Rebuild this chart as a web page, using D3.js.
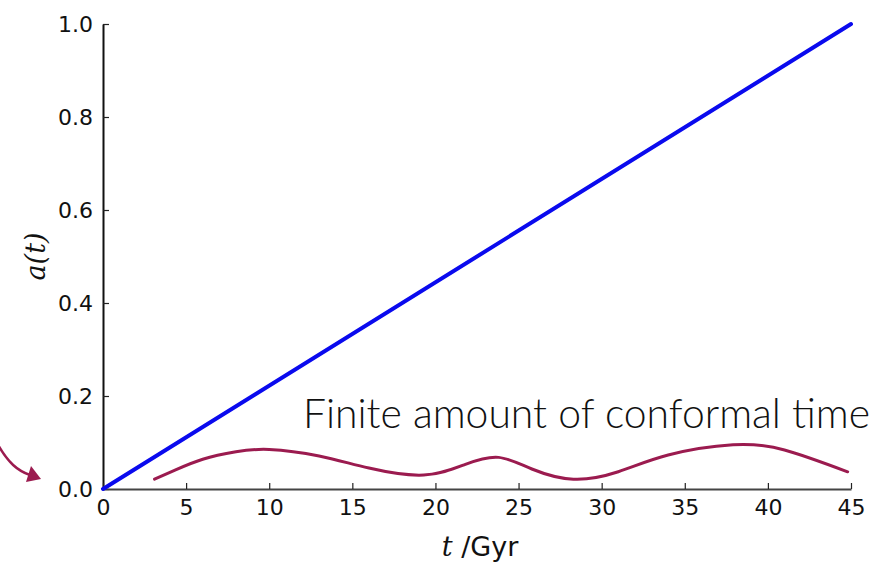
<!DOCTYPE html>
<html>
<head>
<meta charset="utf-8">
<script src="https://cdn.jsdelivr.net/npm/d3@7"></script>
<style>
  html, body { margin: 0; padding: 0; background: #fff; }
  svg { display: block; }
</style>
</head>
<body>
<script>
// Scale factor a(t) against cosmic time t (Gyr)
const xTicks = [0, 5, 10, 15, 20, 25, 30, 35, 40, 45];
const yTicks = [0.0, 0.2, 0.4, 0.6, 0.8, 1.0];

// Linear expansion
const linearT = [0, 45];
const linearA = [0.0, 1.0];

// Wavy curve near the axis
const waveT = [3.1, 4.3, 6.0, 8.0, 10.0, 13.0, 16.0, 19.3, 21.8, 23.8, 25.8, 28.3, 31.0, 34.0, 37.9, 41.0, 44.8];
const waveA = [0.021, 0.040, 0.064, 0.080, 0.085, 0.071, 0.045, 0.030, 0.053, 0.068, 0.043, 0.021, 0.037, 0.073, 0.095, 0.084, 0.037];

const annotation = "Finite amount of conformal time";

const W = 875, H = 565;
const svg = d3.select("body").append("svg").attr("width", W).attr("height", H);

const x = d3.scaleLinear().domain([0, 45]).range([103, 851]);
const y = d3.scaleLinear().domain([0, 1]).range([489, 24]);

const tickFont = "'DejaVu Sans', sans-serif";

// Left axis: inward ticks
const yAxis = d3.axisLeft(y).tickValues(yTicks).tickFormat(d3.format(".1f"))
  .tickSizeInner(-6).tickSizeOuter(0).tickPadding(10);
const gy = svg.append("g").attr("transform", `translate(${x(0)},0)`).call(yAxis);
gy.select(".domain").attr("stroke", "#111").attr("stroke-width", 2);
gy.selectAll(".tick line").attr("stroke", "#222").attr("stroke-width", 1.2);
gy.selectAll(".tick text").attr("font-family", tickFont).attr("font-size", 22).attr("fill", "#111");

// Bottom axis: inward ticks
const xAxis = d3.axisBottom(x).tickValues(xTicks).tickFormat(d3.format("d"))
  .tickSizeInner(-6).tickSizeOuter(0).tickPadding(10);
const gx = svg.append("g").attr("transform", `translate(0,${y(0)})`).call(xAxis);
gx.select(".domain").attr("stroke", "#444").attr("stroke-width", 2);
gx.selectAll(".tick line").attr("stroke", "#222").attr("stroke-width", 1.2);
gx.selectAll(".tick text").attr("font-family", tickFont).attr("font-size", 22).attr("fill", "#111");

// Linear a(t)
const linearData = linearT.map((t, i) => [t, linearA[i]]);
svg.append("path")
  .datum(linearData)
  .attr("fill", "none")
  .attr("stroke", "#0a0aee")
  .attr("stroke-width", 4)
  .attr("stroke-linecap", "round")
  .attr("d", d3.line().x(d => x(d[0])).y(d => y(d[1])));

// Wavy curve
const waveColor = "#9b1b4f";
const waveData = waveT.map((t, i) => [t, waveA[i]]);
svg.append("path")
  .datum(waveData)
  .attr("fill", "none")
  .attr("stroke", waveColor)
  .attr("stroke-width", 3)
  .attr("stroke-linecap", "round")
  .attr("d", d3.line().curve(d3.curveNatural).x(d => x(d[0])).y(d => y(d[1])));

// Curved arrow entering from the left edge, pointing at the origin
const ox = x(0), oy = y(0);
svg.append("path")
  .attr("fill", "none")
  .attr("stroke", waveColor)
  .attr("stroke-width", 2.5)
  .attr("d", `M${ox - 106},${oy - 46} C${ox - 95},${oy - 26} ${ox - 85},${oy - 18} ${ox - 73},${oy - 14}`);
svg.append("path")
  .attr("fill", waveColor)
  .attr("d", `M${ox - 62},${oy - 10} L${ox - 72},${oy - 23} L${ox - 77},${oy - 7} Z`);

// Annotation text
svg.append("text")
  .attr("x", 303).attr("y", 428)
  .attr("font-family", "Lato, 'Open Sans', sans-serif")
  .attr("font-weight", 300)
  .attr("font-size", 41)
  .attr("fill", "#111")
  .attr("textLength", 567)
  .attr("lengthAdjust", "spacingAndGlyphs")
  .text(annotation);

// Axis labels
const xl = svg.append("text")
  .attr("x", (x(0) + x(45)) / 2 + 3).attr("y", 556)
  .attr("text-anchor", "middle")
  .attr("font-size", 27)
  .attr("fill", "#111");
xl.append("tspan").attr("font-family", "'DejaVu Serif', serif").attr("font-style", "italic").text("t");
xl.append("tspan").attr("font-family", "'DejaVu Sans', sans-serif").text(" /Gyr");

svg.append("text")
  .attr("transform", `translate(45,${(y(0) + y(1)) / 2}) rotate(-90)`)
  .attr("text-anchor", "middle")
  .attr("font-family", "'DejaVu Serif', serif")
  .attr("font-style", "italic")
  .attr("font-size", 27)
  .attr("fill", "#111")
  .text("a(t)");
</script>
</body>
</html>
